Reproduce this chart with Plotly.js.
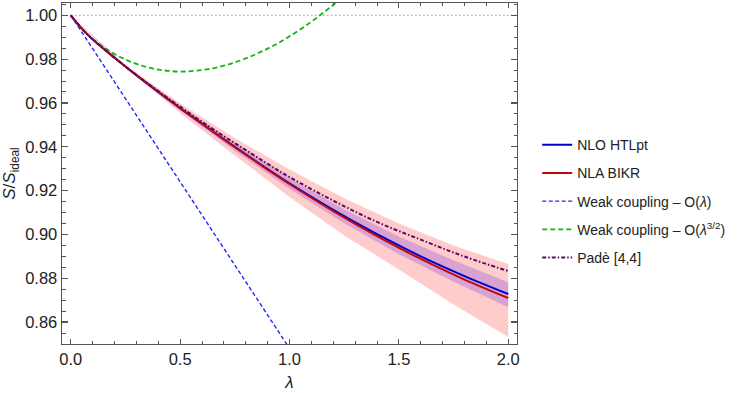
<!DOCTYPE html>
<html>
<head>
<meta charset="utf-8">
<script src="https://cdn.plot.ly/plotly-3.0.1.min.js"></script>
<style>
html,body{margin:0;padding:0;background:#fff;}
#chart{width:747px;height:393px;}
</style>
</head>
<body>
<div id="chart"></div>
<script>
// ---- data ----
var lam = [0, 0.05, 0.1, 0.2, 0.3, 0.4, 0.5, 0.6, 0.7, 0.8, 0.9, 1.0, 1.2, 1.4, 1.6, 1.8, 2.0];
var htlpt = [1.0, 0.9940, 0.9890, 0.9806, 0.9726, 0.9650, 0.9576, 0.9505, 0.9434, 0.9365, 0.9298, 0.9233, 0.9112, 0.9001, 0.8900, 0.8810, 0.8728];
var bikr  = [1.0, 0.9940, 0.9890, 0.9806, 0.9726, 0.9650, 0.9576, 0.9505, 0.9434, 0.9364, 0.9296, 0.9230, 0.9106, 0.8992, 0.8888, 0.8794, 0.8710];
var pade  = [1.0, 0.9940, 0.9890, 0.9807, 0.9728, 0.9654, 0.9583, 0.9514, 0.9448, 0.9385, 0.9322, 0.9262, 0.9154, 0.9057, 0.8976, 0.8899, 0.8833];

var bandLam = [0, 0.25, 0.5, 0.75, 1.0, 1.25, 1.5, 1.75, 2.0];
var bikrHi = [1.0, 0.9772, 0.9598, 0.9440, 0.9296, 0.9165, 0.9050, 0.8950, 0.8865];
var bikrLo = [1.0, 0.9760, 0.9554, 0.9360, 0.9171, 0.8995, 0.8840, 0.8680, 0.8532];
var htlHi  = [1.0, 0.9770, 0.9587, 0.9420, 0.9258, 0.9115, 0.8990, 0.8882, 0.8782];
var htlLo  = [1.0, 0.9762, 0.9565, 0.9382, 0.9208, 0.9051, 0.8910, 0.8784, 0.8668];

var weakLam = [0, 0.5, 1.0];
var weak1 = [1.0, 0.9240, 0.8480];

var weak32Lam = [0, 0.05, 0.1, 0.15, 0.2, 0.25, 0.3, 0.35, 0.4, 0.45, 0.5, 0.55, 0.6, 0.65, 0.7, 0.75, 0.8, 0.85, 0.9, 0.95, 1.0, 1.05, 1.1, 1.15, 1.2, 1.25];
var weak32 = [1.0, 0.9940, 0.9893, 0.9855, 0.9823, 0.9798, 0.9778, 0.9763, 0.9752, 0.9746, 0.9743, 0.9745, 0.9750, 0.9758, 0.9770, 0.9785, 0.9803, 0.9824, 0.9848, 0.9874, 0.9904, 0.9936, 0.9971, 1.0008, 1.0048, 1.0090];

var idealLam = [0, 2.04];
var ideal = [1.0, 1.0];

var names = ["NLO HTLpt", "NLA BIKR", "Weak coupling \u2013 O(<i>\u03bb</i>)", "Weak coupling \u2013 O(<i>\u03bb</i><sup>3/2</sup>)", "Pad\u00e8 [4,4]"];

function band(xs, lo, hi) {
  return {x: xs.concat(xs.slice().reverse()), y: hi.concat(lo.slice().reverse())};
}
var bB = band(bandLam, bikrLo, bikrHi);
var bH = band(bandLam, htlLo, htlHi);

var traces = [
  {x: bB.x, y: bB.y, type: 'scatter', mode: 'lines', fill: 'toself', fillcolor: 'rgba(255,0,0,0.2)', line: {width: 0, color: 'rgba(0,0,0,0)'}, showlegend: false, hoverinfo: 'skip'},
  {x: bH.x, y: bH.y, type: 'scatter', mode: 'lines', fill: 'toself', fillcolor: 'rgba(60,0,230,0.2)', line: {width: 0, color: 'rgba(0,0,0,0)'}, showlegend: false, hoverinfo: 'skip'},
  {x: idealLam, y: ideal, type: 'scatter', mode: 'lines', line: {color: '#aaaaaa', width: 1, dash: '2px,2px'}, showlegend: false, hoverinfo: 'skip'},
  {x: weakLam, y: weak1, name: names[2], legendgroup: 'c', legendrank: 3, type: 'scatter', mode: 'lines', line: {color: 'rgb(30,40,255)', width: 1.4, dash: '4px,2.5px'}},
  {x: weak32Lam, y: weak32, name: names[3], legendgroup: 'd', legendrank: 4, type: 'scatter', mode: 'lines', line: {color: 'rgb(20,180,20)', width: 1.8, shape: 'spline', dash: '5px,3px'}},
  {x: lam, y: htlpt, name: names[0], legendgroup: 'a', legendrank: 1, type: 'scatter', mode: 'lines', line: {color: 'rgb(0,0,200)', width: 2, shape: 'spline'}},
  {x: lam, y: bikr, name: names[1], legendgroup: 'b', legendrank: 2, type: 'scatter', mode: 'lines', line: {color: 'rgb(190,10,10)', width: 2, shape: 'spline'}},
  {x: lam, y: pade, name: names[4], legendgroup: 'e', legendrank: 5, type: 'scatter', mode: 'lines', line: {color: 'rgb(90,10,100)', width: 2, shape: 'spline', dash: '4px,2px,1.5px,2px'}}
];

var axisCommon = {
  showline: true, linecolor: '#555', linewidth: 1.4, mirror: 'allticks',
  ticks: 'inside', tickcolor: '#555', tickwidth: 1.2,
  showgrid: false, zeroline: false,
  tickfont: {family: 'Liberation Sans, Arial, sans-serif', size: 16.5, color: '#222'}
};

var layout = {
  width: 747, height: 393,
  margin: {l: 62, r: 230, t: 3, b: 49},
  paper_bgcolor: '#fff', plot_bgcolor: '#fff',
  showlegend: true,
  xaxis: Object.assign({}, axisCommon, {
    range: [-0.04, 2.04], tickvals: [0, 0.5, 1.0, 1.5, 2.0], tickformat: '.1f', ticklen: 5,
    minor: {dtick: 0.1, tick0: 0, ticks: 'inside', ticklen: 3, tickcolor: '#555', tickwidth: 1, showgrid: false},
    title: {text: '<i>\u03bb</i>', font: {family: 'Liberation Sans, Arial, sans-serif', size: 17, color: '#222'}, standoff: 9}
  }),
  yaxis: Object.assign({}, axisCommon, {
    range: [0.85, 1.0056], dtick: 0.02, tick0: 0.86, tickformat: '.2f', ticklen: 6,
    minor: {dtick: 0.005, tick0: 0.85, ticks: 'inside', ticklen: 3.5, tickcolor: '#555', tickwidth: 1, showgrid: false},
    title: {text: '<i>S</i>/<i>S</i><sub>ideal</sub>', font: {family: 'Liberation Sans, Arial, sans-serif', size: 17, color: '#222'}, standoff: 8}
  }),
  legend: {
    x: 1.0444, xanchor: 'left', y: 0.63, yanchor: 'top',
    traceorder: 'grouped', tracegroupgap: 7,
    font: {family: 'Liberation Sans, Arial, sans-serif', size: 14, color: '#222'},
    bgcolor: 'rgba(0,0,0,0)', borderwidth: 0
  },
  hovermode: false
};

Plotly.newPlot('chart', traces, layout, {displayModeBar: false, staticPlot: true});
</script>
</body>
</html>
